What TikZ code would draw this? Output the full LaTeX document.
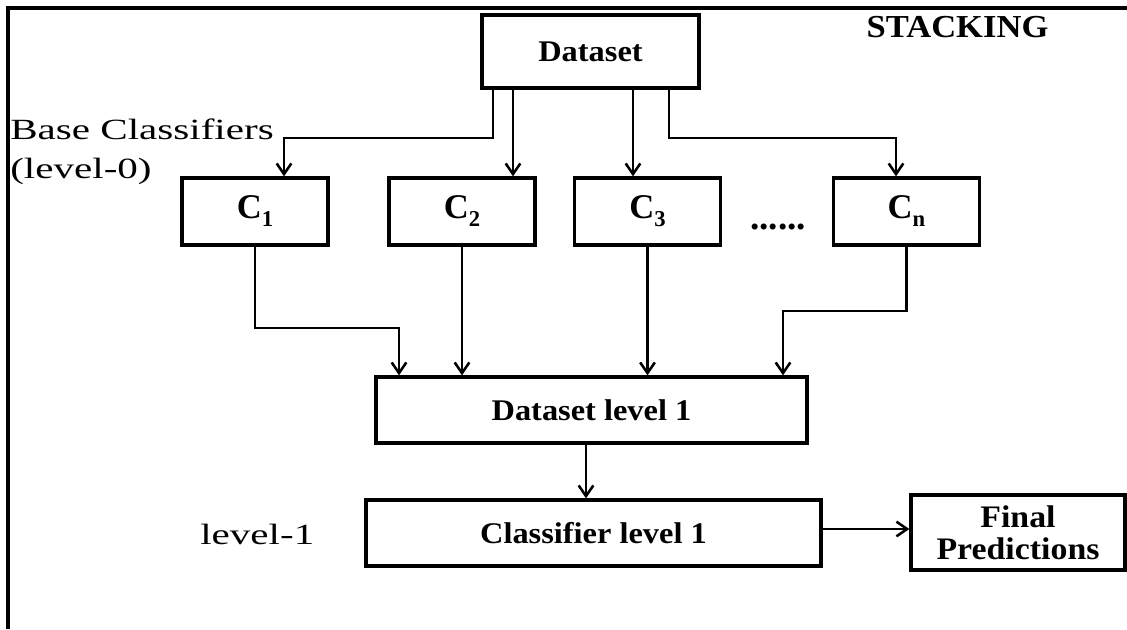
\documentclass[tikz,border=0pt]{standalone}
\usepackage{fontspec}
\setmainfont{Liberation Serif}
\newfontfamily\widefont[FakeStretch=1.4]{Liberation Serif}
\newfontfamily\bwide[FakeStretch=1.08]{Liberation Serif}
\usetikzlibrary{arrows.meta,calc}
\newcommand{\csub}[1]{C\raisebox{-6pt}{\fontsize{17}{17}\selectfont #1}}
\tikzset{
  box/.style={draw,line width=2.5pt,inner sep=0pt,font=\bwide\bfseries\fontsize{22.5}{24}\selectfont},
  cbox/.style={box,minimum width=109.5pt,minimum height=50.25pt,font=\bfseries\fontsize{26}{28}\selectfont},
  conn/.style={line width=1.9pt,-{Straight Barb[length=8pt,width=11pt]}},
  plain/.style={font=\widefont\fontsize{22}{26}\selectfont,inner sep=0pt},
  frame/.style={line width=2.4pt}
}
\begin{document}
\begin{tikzpicture}[x=0.75pt,y=-0.75pt]
\useasboundingbox (0,0) rectangle (1127,629);
\draw[frame] (8,629) -- (8,8) -- (1127,8);

\node[box,minimum width=162.75pt,minimum height=54.75pt] (ds) at (590.5,51.5) {Dataset};
\node[font=\bwide\bfseries\fontsize{24}{26}\selectfont,inner sep=0pt,anchor=base] (stk) at (957.5,37) {STACKING};

\node[plain,anchor=base west] (bc) at (10,139) {Base Classifiers};
\node[plain,anchor=base west] (l0) at (10,178) {(level-0)};

\node[cbox] (c1) at (255,211.5) {\csub{1}};
\node[cbox] (c2) at (462,211.5) {\csub{2}};
\node[cbox] (c3) at (647.5,211.5) {\csub{3}};
\node[cbox] (cn) at (906.5,211.5) {\csub{n}};
\node[font=\bfseries\fontsize{28}{30}\selectfont,inner sep=0pt,anchor=base] (dots) at (778,229) {......};

\node[box,minimum width=323.25pt,minimum height=49.5pt] (dl) at (591.5,410) {Dataset level 1};
\node[box,minimum width=341.25pt,minimum height=49.5pt] (cl) at (593.5,533) {Classifier level 1};
\node[box,minimum width=160.5pt,minimum height=56.25pt,align=center,font=\bwide\bfseries\fontsize{23.5}{24}\selectfont] (fp) at (1018,532.5) {Final\\Predictions};
\node[plain,anchor=base west] (lv1) at (200,544) {level-1};

\begin{scope}[line width=1.9pt]
% dataset to base classifiers
\draw[conn] (ds.south -| 493,0) -- (493,138) -| (c1.north -| 284,0);
\draw[conn] (ds.south -| 513,0) -- (c2.north -| 513,0);
\draw[conn] (ds.south -| 633,0) -- (c3.north -| 633,0);
\draw[conn] (ds.south -| 669,0) -- (669,138) -| (cn.north -| 896,0);

% base classifiers to dataset level 1
\draw[conn] (c1.south) -- (255,328) -| (dl.north -| 399,0);
\draw[conn] (c2.south) -- (dl.north -| c2.south);
\draw[conn] (c3.south) -- (dl.north -| c3.south);
\draw[conn] (cn.south) -- (906.5,311) -| (dl.north -| 783,0);

% level 1
\draw[conn] (dl.south -| 586,0) -- (cl.north -| 586,0);
\draw[conn] (cl.east |- 0,529) -- (fp.west |- 0,529);
\end{scope}
\end{tikzpicture}
\end{document}
